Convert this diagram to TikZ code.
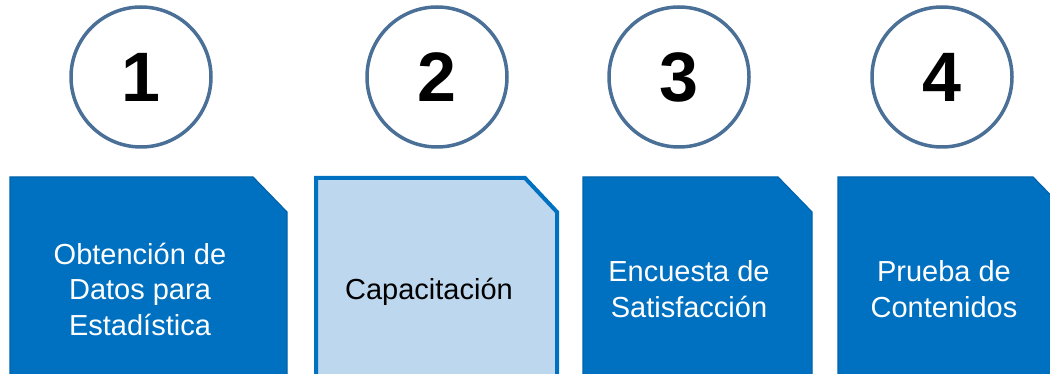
\documentclass[tikz,border=0pt]{standalone}
\usepackage{fontspec}
\setmainfont{Liberation Sans}
\begin{document}
\begin{tikzpicture}[x=1pt,y=-1pt,
  numcircle/.style={circle,draw=circleblue,line width=3.5pt,minimum size=140pt,inner sep=0pt,
    font=\fontsize{70}{70}\selectfont\bfseries,text=black},
  darkbox/.style={fill=boxblue,draw=boxedge,line width=1.2pt},
  lightbox/.style={fill=lightblue,draw=boxblue,line width=4pt},
  boxtext/.style={align=center,font=\fontsize{29}{35.5}\selectfont,text=white},
]
\definecolor{circleblue}{HTML}{4A7098}
\definecolor{boxblue}{HTML}{0070C0}
\definecolor{boxedge}{HTML}{0063AD}
\definecolor{lightblue}{HTML}{BDD7EE}
\clip (0,0) rectangle (1050,374);
\fill[white] (0,0) rectangle (1050,374);
% circles
\node[numcircle] (c1) at (141,77) {1};
\node[numcircle] (c2) at (437,77) {2};
\node[numcircle] (c3) at (679,77) {3};
\node[numcircle] (c4) at (942,77) {4};
% boxes
\draw[darkbox] (10,400) -- (10,177) -- (253,177) -- (287,212) -- (287,400) -- cycle;
\draw[lightbox] (316,400) -- (316,178) -- (525,178) -- (557,212) -- (557,400) -- cycle;
\draw[darkbox] (583,400) -- (583,177) -- (778,177) -- (812,212) -- (812,400) -- cycle;
\draw[darkbox] (838,400) -- (838,177) -- (1033,177) -- (1067,212) -- (1067,400) -- cycle;
% texts
\node[boxtext] (t1) at (140,289) {Obtención de\\Datos para\\Estadística};
\node[boxtext,text=black] (t2) at (429,292) {Capacitación};
\node[boxtext] (t3) at (689,289) {Encuesta de\\Satisfacción};
\node[boxtext] (t4) at (944,289) {Prueba de\\Contenidos};
\end{tikzpicture}
\end{document}
